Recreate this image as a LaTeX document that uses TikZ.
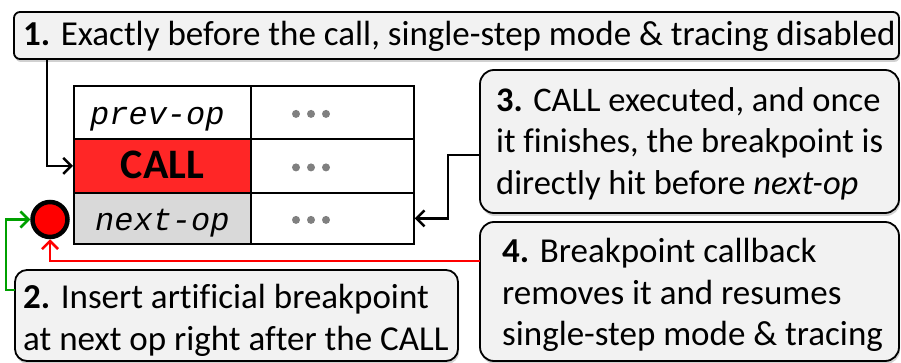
\documentclass[tikz,border=0pt]{standalone}
\usepackage{fontspec}
\setmainfont{Carlito}[Ligatures=CommonOff]
\setmonofont{Liberation Mono}
\usetikzlibrary{arrows.meta,shadows,calc}
\definecolor{boxgray}{HTML}{F2F2F2}
\definecolor{cellgray}{HTML}{D9D9D9}
\definecolor{callred}{HTML}{FF2626}
\definecolor{dotgray}{HTML}{808080}
\definecolor{arrgreen}{HTML}{00A000}
\begin{document}
\begin{tikzpicture}[x=1pt,y=-1pt,
  box/.style={draw=black, line width=1.8pt, fill=boxgray, inner sep=0pt, outer sep=0pt, anchor=north west,
    drop shadow={shadow xshift=1pt, shadow yshift=-3pt, opacity=0.3, fill=black!60}},
  txt/.style={anchor=base west, inner sep=0pt, font=\fontsize{35}{40}\selectfont},
  txtb/.style={anchor=base west, inner sep=0pt, font=\fontsize{34.5}{40}\selectfont},
  cell/.style={draw=black, line width=1.8pt, anchor=north west, inner sep=0pt, text height=24pt, text depth=0pt},
  codetxt/.style={font=\fontsize{32}{36}\selectfont\ttfamily\itshape},
  conn/.style={line width=2.5pt, -{Straight Barb[length=8pt,width=16pt,line width=2.5pt]}},
  dot/.style={fill=dotgray}
]
\useasboundingbox (0,0) rectangle (901,363);

% boxes
\node[box, rounded corners=6pt, minimum width=885pt, minimum height=47pt] (b1) at (14,12) {};
\node[box, rounded corners=14pt, minimum width=419pt, minimum height=143pt] (b3) at (480,70) {};
\node[box, rounded corners=14pt, minimum width=419pt, minimum height=139pt] (b4) at (480,222) {};
\node[box, rounded corners=12pt, minimum width=443pt, minimum height=91pt] (b2) at (15,270) {};

% texts
\node[txt] (t1) at (23,46) {\textbf{1.} Exactly before the call, single-step mode \& tracing disabled};
\node[txtb] (t3a) at (496,112) {\textbf{3.} CALL executed, and once};
\node[txtb] (t3b) at (496,153) {it finishes, the breakpoint is};
\node[txtb] (t3c) at (496,195) {directly hit before \textit{next-op}};
\node[txt] (t4a) at (502,262) {\textbf{4.} Breakpoint callback};
\node[txt] (t4b) at (502,304) {removes it and resumes};
\node[txt] (t4c) at (502,345) {single-step mode \& tracing};
\node[txt] (t2a) at (23,308) {\textbf{2.} Insert artificial breakpoint};
\node[txt] (t2b) at (23,350) {at next op right after the CALL};

% table
\node[cell, fill=white, minimum width=177pt, minimum height=53pt, codetxt, inner xsep=0pt] (c11) at (73,85) {\hspace*{-10pt}prev-op};
\node[cell, fill=white, minimum width=163pt, minimum height=53pt] (c12) at (250,85) {};
\node[cell, fill=callred, minimum width=177pt, minimum height=54pt, font=\fontsize{42}{46}\selectfont\bfseries, text height=26pt] (c21) at (73,138) {CALL};
\node[cell, fill=white, minimum width=163pt, minimum height=54pt] (c22) at (250,138) {};
\node[cell, fill=cellgray, minimum width=177pt, minimum height=51pt, codetxt] (c31) at (73,192) {next-op};
\node[cell, fill=white, minimum width=163pt, minimum height=51pt] (c32) at (250,192) {};

\foreach \c in {c12,c22,c32}{
  \foreach \dx in {46,61,76}{
    \fill[dot] ($(\c.west)+(\dx,1.5)$) circle[radius=4pt];
  }
}

% breakpoint
\node[circle, draw=black, line width=4.5pt, fill=red, minimum size=35pt, inner sep=0pt] (bp) at (50,219.5) {};

% connectors
\draw[conn] ($(b1.south west)+(33,0)$) |- (c21.west);
\draw[conn] ($(b3.north west)+(0,85)$) -- ++(-32,0) |- (c32.east);
\draw[conn, draw=red] ($(b4.north west)+(0,39)$) -| (bp.south);
\draw[conn, draw=arrgreen] ($(b2.north west)+(0,20)$) -- ++(-9,0) |- (bp.west);
\end{tikzpicture}
\end{document}
